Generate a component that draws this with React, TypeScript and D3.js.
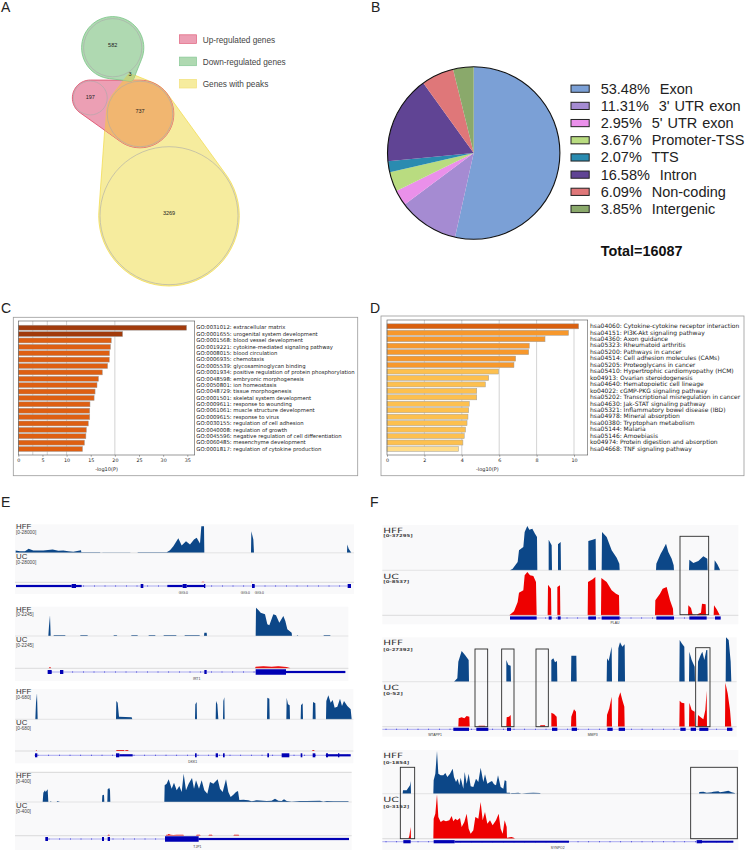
import { useEffect, useRef } from "react";
import * as d3 from "d3";

// ---- panel A
const vennCounts = { down: 582, shared: 3, upOnly: 197, upPeak: 737, peakOnly: 3269 };
const legendA = ["Up-regulated genes", "Down-regulated genes", "Genes with peaks"];

// ---- panel B
const pieNames = ["Exon", "3' UTR exon", "5' UTR exon", "Promoter-TSS", "TTS", "Intron", "Non-coding", "Intergenic"];
const pieValues = [53.48, 11.31, 2.95, 3.67, 2.07, 16.58, 6.09, 3.85];
const pieColors = ["#7ba0d6", "#a58bd2", "#ea90ea", "#b9dc80", "#2a8bb0", "#604494", "#df7779", "#8aa96b"];

// ---- panel C
const goLabels = [
  "GO:0031012: extracellular matrix",
  "GO:0001655: urogenital system development",
  "GO:0001568: blood vessel development",
  "GO:0019221: cytokine-mediated signaling pathway",
  "GO:0008015: blood circulation",
  "GO:0006935: chemotaxis",
  "GO:0005539: glycosaminoglycan binding",
  "GO:0001934: positive regulation of protein phosphorylation",
  "GO:0048598: embryonic morphogenesis",
  "GO:0050801: ion homeostasis",
  "GO:0048729: tissue morphogenesis",
  "GO:0001501: skeletal system development",
  "GO:0009611: response to wounding",
  "GO:0061061: muscle structure development",
  "GO:0009615: response to virus",
  "GO:0030155: regulation of cell adhesion",
  "GO:0040008: regulation of growth",
  "GO:0045596: negative regulation of cell differentiation",
  "GO:0060485: mesenchyme development",
  "GO:0001817: regulation of cytokine production",
];
const goValues = [34.85, 21.6, 19.25, 19.1, 18.9, 18.85, 18.5, 17.4, 16.6, 16.3, 15.9, 15.7, 14.85, 14.8, 14.8, 14.5, 14.1, 14.0, 13.7, 13.3];
const goColors = goValues.map((_, i) => (i < 2 ? "#a13a0b" : "#de5f12"));

// ---- panel D
const keggLabels = [
  "hsa04060: Cytokine-cytokine receptor interaction",
  "hsa04151: PI3K-Akt signaling pathway",
  "hsa04360: Axon guidance",
  "hsa05323: Rheumatoid arthritis",
  "hsa05200: Pathways in cancer",
  "hsa04514: Cell adhesion molecules (CAMs)",
  "hsa05205: Proteoglycans in cancer",
  "hsa05410: Hypertrophic cardiomyopathy (HCM)",
  "ko04913: Ovarian steroidogenesis",
  "hsa04640: Hematopoietic cell lineage",
  "ko04022: cGMP-PKG signaling pathway",
  "hsa05202: Transcriptional misregulation in cancer",
  "hsa04630: Jak-STAT signaling pathway",
  "hsa05321: Inflammatory bowel disease (IBD)",
  "hsa04978: Mineral absorption",
  "hsa00380: Tryptophan metabolism",
  "hsa05144: Malaria",
  "hsa05146: Amoebiasis",
  "ko04974: Protein digestion and absorption",
  "hsa04668: TNF signaling pathway",
];
const keggValues = [10.25, 9.71, 8.45, 7.61, 7.58, 6.88, 6.79, 5.97, 5.44, 5.26, 4.8, 4.8, 4.4, 4.37, 4.33, 4.28, 4.2, 4.13, 4.06, 3.83];
const keggColors = keggValues.map((_, i) => (i === 0 ? "#d9600f" : i < 7 ? "#f7982c" : i < 19 ? "#fdc04f" : "#fedc8c"));

// ---- coverage tracks: [position, coverage]
type Pt = [number, number];
type Exon = [number, number, number];

const e1Hff: Pt[] = [[47,0],[47,7],[60,5],[75,5],[86,12],[100,7],[130,7],[158,10],[175,6],[190,7],[205,5],[220,3],[243,8],[244,2],[300,2],[302,0],[310,1],[390,1],[392,0],[412,0],[414,2],[485,2],[500,2],[510,8],[520,20],[535,44],[545,22],[558,35],[570,25],[582,40],[590,45],[600,28],[604,80],[612,80],[613,0],[753,0],[754,65],[760,40],[762,0],[1041,0],[1042,25],[1046,12],[1053,2],[1054,0]];
const e1Uc: Pt[] = [[604,0],[606,2],[612,2],[614,0],[753,0],[755,2],[758,0]];
const e1Exons: Exon[] = [[48,215,1],[215,228,2],[228,245,1],[422,430,2],[502,548,1],[548,560,2],[560,612,1],[612,616,2],[756,764,2],[1043,1053,2]];

const e2Hff: Pt[] = [[145,0],[147,30],[150,62],[152,0],[160,0],[162,2],[195,2],[197,0],[240,0],[242,2],[262,2],[264,0],[340,0],[342,2],[350,2],[352,0],[393,0],[395,2],[412,2],[414,0],[445,0],[447,2],[465,2],[467,0],[490,0],[492,2],[528,2],[530,0],[553,0],[555,2],[598,2],[600,0],[612,0],[613,10],[620,10],[621,0],[767,0],[768,85],[775,78],[782,70],[795,65],[802,35],[808,32],[820,65],[828,62],[838,40],[850,60],[856,45],[862,20],[875,10],[876,0],[890,0],[892,2],[895,0],[970,0],[972,2],[990,2],[992,0]];
const e2Uc: Pt[] = [[146,0],[148,3],[152,3],[153,0],[765,0],[767,5],[790,6],[815,5],[835,6],[860,4],[870,1],[871,0]];
const e2Exons: Exon[] = [[143,155,2],[180,190,2],[613,620,2],[767,858,3],[858,1036,1]];

const e3Hff: Pt[] = [[106,0],[108,50],[111,78],[113,0],[348,0],[349,55],[353,50],[357,8],[395,6],[397,0],[585,0],[586,45],[590,52],[591,0],[647,0],[648,55],[652,45],[655,0],[669,0],[670,55],[673,66],[674,0],[801,0],[802,65],[808,62],[809,0],[859,0],[860,65],[864,45],[869,42],[870,0],[902,0],[903,42],[908,48],[909,0],[938,0],[939,52],[946,48],[947,0],[978,0],[979,55],[985,72],[992,50],[998,58],[1004,35],[1012,38],[1020,62],[1026,40],[1032,55],[1042,40],[1052,30],[1055,0]];
const e3Uc: Pt[] = [[107,0],[109,3],[111,0],[348,0],[350,3],[372,3],[374,0],[375,0],[377,3],[384,3],[386,0],[936,0],[938,3],[942,3],[944,0]];
const e3Exons: Exon[] = [[105,112,2],[348,358,2],[358,398,1],[585,590,2],[647,654,2],[669,674,2],[802,807,2],[845,868,2],[902,907,2],[938,946,2],[978,984,2],[984,1052,1],[1014,1018,2]];

const e4Hff: Pt[] = [[128,0],[130,28],[135,35],[137,30],[143,38],[145,0],[150,0],[152,2],[155,0],[170,0],[172,3],[180,0],[306,0],[307,20],[312,22],[313,0],[322,0],[323,38],[328,42],[330,35],[331,0],[493,0],[494,50],[500,55],[506,68],[515,40],[522,58],[530,35],[538,48],[545,30],[551,85],[558,35],[566,55],[576,72],[582,40],[588,65],[597,40],[605,65],[613,35],[622,25],[630,60],[640,55],[653,68],[660,40],[668,30],[678,68],[685,30],[692,15],[700,22],[708,30],[714,33],[718,6],[730,7],[745,5],[755,2],[770,5],[800,3],[815,4],[825,10],[835,4],[845,3],[852,8],[860,3],[875,1],[900,3],[920,3],[960,4],[970,1],[980,3],[1000,2],[1045,2],[1046,0]];
const e4Uc: Pt[] = [[322,0],[324,3],[328,3],[330,0],[497,0],[499,3],[503,3],[506,5],[512,3],[520,2],[530,3],[550,3],[552,0],[588,0],[590,3],[600,3],[602,0],[625,0],[627,3],[636,3],[638,0],[700,0],[702,3],[716,3],[718,0]];
const e4Exons: Exon[] = [[136,144,2],[306,312,2],[323,330,2],[495,596,3],[596,1047,1]];

const f1Hff: Pt[] = [[420,0],[428,5],[443,25],[447,60],[460,70],[464,115],[472,133],[478,122],[487,125],[495,110],[501,100],[502,0],[536,0],[536,92],[545,75],[546,0],[564,0],[564,78],[572,85],[573,0],[655,0],[655,88],[668,92],[677,95],[678,0],[695,0],[696,115],[710,100],[725,60],[740,38],[748,20],[749,0],[858,0],[859,20],[872,50],[878,60],[888,80],[895,55],[905,35],[911,15],[912,0],[957,0],[958,32],[970,22],[985,28],[1000,42],[1012,35],[1013,0],[1033,0],[1034,30],[1042,18],[1049,4],[1050,0]];
const f1Uc: Pt[] = [[418,0],[432,12],[443,40],[447,68],[460,75],[464,120],[472,130],[480,120],[490,118],[498,100],[500,0],[533,0],[534,92],[543,80],[544,0],[562,0],[562,85],[570,90],[571,0],[653,0],[654,100],[668,108],[676,115],[677,0],[693,0],[694,112],[710,100],[725,75],[738,65],[747,60],[748,0],[855,0],[856,45],[870,65],[878,80],[890,85],[900,45],[909,20],[910,0],[954,0],[955,30],[963,22],[968,2],[980,0],[985,5],[993,8],[996,35],[1007,33],[1008,0],[1031,0],[1032,30],[1040,18],[1048,3],[1049,0]];
const f1Exons: Exon[] = [[420,500,2],[536,545,2],[563,572,2],[655,678,2],[695,749,2],[859,912,2],[958,1010,2],[1035,1052,2]];

const f2Hff: Pt[] = [[252,0],[262,10],[265,60],[275,92],[285,80],[296,65],[297,0],[409,0],[409,65],[415,50],[422,48],[423,0],[544,0],[544,65],[550,70],[555,58],[561,62],[562,0],[603,0],[604,78],[619,78],[620,0],[710,0],[711,70],[716,62],[725,105],[726,0],[744,0],[745,100],[750,118],[757,105],[764,112],[765,0],[928,0],[929,125],[935,115],[943,105],[944,0],[957,0],[958,90],[965,65],[974,45],[975,0],[983,0],[984,60],[992,80],[997,90],[1003,65],[1009,95],[1012,95],[1013,0],[1067,0],[1068,133],[1076,125],[1082,60],[1084,0]];
const f2Uc: Pt[] = [[265,0],[266,25],[275,28],[283,25],[290,32],[298,30],[299,0],[325,0],[326,3],[345,3],[346,0],[409,0],[410,28],[417,30],[422,35],[423,0],[510,0],[511,4],[525,4],[526,0],[544,0],[544,42],[552,38],[560,30],[561,0],[603,0],[604,30],[612,52],[618,45],[619,0],[710,0],[711,35],[718,55],[725,90],[726,0],[744,0],[745,85],[751,103],[757,80],[763,60],[764,0],[928,0],[929,78],[935,72],[943,70],[944,0],[957,0],[958,72],[965,50],[974,45],[975,0],[983,0],[984,35],[992,28],[1000,22],[1006,50],[1010,108],[1011,0],[1065,0],[1066,132],[1073,100],[1080,50],[1084,0]];
const f2Exons: Exon[] = [[250,297,2],[319,355,2],[411,423,2],[546,562,2],[605,621,2],[712,728,2],[746,765,2],[931,947,2],[962,978,2],[988,1015,2],[1071,1087,2]];

const f3Hff: Pt[] = [[98,0],[99,10],[110,10],[120,25],[122,38],[123,0],[190,0],[191,40],[196,60],[201,128],[205,60],[212,55],[220,55],[226,62],[232,50],[240,60],[248,75],[252,50],[258,35],[263,45],[268,25],[272,48],[280,15],[284,65],[290,30],[296,60],[302,22],[310,20],[318,45],[325,35],[332,78],[340,35],[345,58],[352,30],[360,35],[366,38],[372,28],[378,25],[384,55],[392,20],[400,15],[404,40],[409,38],[410,3],[420,3],[421,0],[425,2],[435,2],[445,3],[455,0],[470,2],[490,3],[510,2],[512,0],[987,0],[988,5],[1000,6],[1010,3],[1025,4],[1030,6],[1045,7],[1050,4],[1060,6],[1075,9],[1085,4],[1094,2],[1095,0]];
const f3Uc: Pt[] = [[115,0],[118,8],[122,35],[123,0],[190,0],[191,60],[196,75],[201,133],[205,65],[212,50],[220,55],[228,52],[238,55],[245,68],[250,52],[256,60],[262,55],[270,62],[275,35],[283,50],[290,75],[296,30],[302,15],[310,25],[316,65],[325,60],[332,110],[338,55],[345,80],[352,45],[360,55],[368,40],[378,55],[386,75],[392,30],[398,15],[404,55],[410,35],[411,3],[425,5],[433,2],[434,0]];
const f3Exons: Exon[] = [[100,122,2],[191,254,2],[254,597,1],[980,996,2],[996,1090,1]];

const HFF_BLUE = "#0c4788";
const UC_RED = "#ee0000";
const LABEL_FONT = "'Liberation Sans', Arial, sans-serif";
const BAR_FONT = "'DejaVu Sans', sans-serif";

// zoomed coordinates -> page, one scale per column
const xE = d3.scaleLinear().domain([0, 1110]).range([0, 370]);
const xF = d3.scaleLinear().domain([0, 1131]).range([370, 747]);

function circlePoints(cx: number, cy: number, r: number): [number, number][] {
  return d3.range(64).map((i) => {
    const a = (i / 64) * 2 * Math.PI;
    return [cx + r * Math.cos(a), cy + r * Math.sin(a)] as [number, number];
  });
}

function VennPanel() {
  const radius = d3.scaleSqrt().domain([0, vennCounts.peakOnly]).range([0, 69]);
  const down = { x: 112.7, y: 47.7, r: radius(vennCounts.down) };
  const shared = { x: 130, y: 77, r: radius(vennCounts.shared) };
  const upOnly = { x: 90.3, y: 98, r: radius(vennCounts.upOnly) };
  const upPeak = { x: 140, y: 114, r: radius(vennCounts.upPeak) };
  const peakOnly = { x: 169, y: 215.7, r: radius(vennCounts.peakOnly) };

  const hull = (sets: { x: number; y: number; r: number }[], pad: number) => {
    const pts = sets.flatMap((s) => circlePoints(s.x, s.y, s.r + pad));
    return d3.line()(d3.polygonHull(pts)!)! + "Z";
  };
  const greenHull = hull([down, shared], 2);
  const pinkHull = hull([upOnly, upPeak], 1);
  const yellowHull = hull([shared, upPeak, peakOnly], 1.3);

  const swatches = [
    { fill: "#ec9fb4", stroke: "#e0607c" },
    { fill: "#afd9b1", stroke: "#86c895" },
    { fill: "#f6ec9e", stroke: "#f3e27c" },
  ];
  const grey = "#a9a9a9";

  return (
    <g>
      <defs>
        <clipPath id="clipYellow">
          <path d={yellowHull} />
        </clipPath>
      </defs>
      <path d={yellowHull} fill="#f6ec9e" stroke="#f2dd55" strokeWidth={0.8} />
      <path d={pinkHull} fill="#ec9fb4" stroke="#e0526f" strokeWidth={0.9} />
      <path d={pinkHull} fill="#f1b670" clipPath="url(#clipYellow)" />
      <path d={greenHull} fill="#afd9b1" stroke="#79c487" strokeWidth={0.8} />
      <path d={greenHull} fill="#c3d27e" clipPath="url(#clipYellow)" />
      {[down, upOnly, upPeak, peakOnly].map((c, i) => (
        <circle key={i} cx={c.x} cy={c.y} r={c.r} fill="none" stroke={grey} strokeWidth={0.6} />
      ))}
      <g fontFamily={LABEL_FONT} fontSize={5.5} fill="#222" textAnchor="middle">
        <text x={112.7} y={47}>{vennCounts.down}</text>
        <text x={130} y={76}>{vennCounts.shared}</text>
        <text x={90.3} y={99}>{vennCounts.upOnly}</text>
        <text x={140} y={113}>{vennCounts.upPeak}</text>
        <text x={169} y={214.5}>{vennCounts.peakOnly}</text>
      </g>
      {legendA.map((name, i) => (
        <g key={name}>
          <rect x={179.5} y={34.8 + i * 22.3} width={17} height={8.6} fill={swatches[i].fill} stroke={swatches[i].stroke} strokeWidth={0.7} />
          <text x={202.7} y={42.6 + i * 22.3} fontFamily={LABEL_FONT} fontSize={8.25} fill="#444">
            {name}
          </text>
        </g>
      ))}
    </g>
  );
}

function PiePanel() {
  const slices = d3.pie<number>().sort(null)(pieValues);
  const arc = d3.arc<d3.PieArcDatum<number>>().innerRadius(0).outerRadius(86.2);
  const row = d3.scalePoint<string>().domain(pieNames).range([88.7, 209]);
  return (
    <g fontFamily={LABEL_FONT}>
      <g transform="translate(473.7,153)">
        {slices.map((s, i) => (
          <path key={i} d={arc(s)!} fill={pieColors[i]} />
        ))}
        <circle r={86.2} fill="none" stroke="#111" strokeWidth={1.1} />
      </g>
      {pieNames.map((name, i) => (
        <g key={name}>
          <rect x={571} y={row(name)! - 3.6} width={18.2} height={7.2} fill={pieColors[i]} stroke="#222" strokeWidth={1} />
          <text x={600.7} y={row(name)! + 5} fontSize={14.5} wordSpacing={0.9} fill="#222" style={{ whiteSpace: "pre" }}>
            {`${pieValues[i].toFixed(2)}%  ${name}`}
          </text>
        </g>
      ))}
      <text x={600.7} y={256} fontSize={14.4} fontWeight="bold" fill="#111">
        Total=16087
      </text>
    </g>
  );
}

function BarPanel({
  labels, values, colors, box, plot, xRange, maxTick, tickStep, grid, bandRange, labelX, labelSize, id,
}: {
  labels: string[]; values: number[]; colors: string[];
  box: number[]; plot: number[]; xRange: number[]; maxTick: number; tickStep: number;
  grid: number[]; bandRange: number[]; labelX: number; labelSize: number; id: string;
}) {
  const axisRef = useRef<SVGGElement>(null);
  const x = d3.scaleLinear().domain([0, maxTick]).range(xRange);
  const y = d3.scaleBand<string>().domain(labels).range(bandRange).paddingInner(0.22).paddingOuter(0.11);

  useEffect(() => {
    const g = d3.select(axisRef.current!);
    g.selectAll("*").remove();
    g.call(d3.axisBottom(x).tickValues(d3.range(0, maxTick + 0.01, tickStep)).tickSize(1.8).tickPadding(1.5) as any);
    g.select(".domain").remove();
    g.selectAll("line").attr("stroke", "#333").attr("stroke-width", 0.4);
    g.selectAll("text").attr("font-size", 4.8).attr("font-family", BAR_FONT).attr("fill", "#222");
  }, [id]);

  return (
    <g>
      <rect x={box[0]} y={box[1]} width={box[2] - box[0]} height={box[3] - box[1]} fill="#fff" stroke="#9a9a9a" strokeWidth={0.8} />
      {grid.map((g) => (
        <line key={g} x1={x(g)} x2={x(g)} y1={plot[1]} y2={plot[3]} stroke="#c8c8c8" strokeWidth={0.8} />
      ))}
      {labels.map((label, i) => (
        <rect key={label} x={x(0)} y={y(label)} width={x(values[i]) - x(0)} height={y.bandwidth()} fill={colors[i]} stroke="#a0a0a0" strokeWidth={0.5} />
      ))}
      <rect x={plot[0]} y={plot[1]} width={plot[2] - plot[0]} height={plot[3] - plot[1]} fill="none" stroke="#555" strokeWidth={0.6} />
      <g ref={axisRef} transform={`translate(0,${plot[3]})`} />
      <text x={(plot[0] + plot[2]) / 2} y={plot[3] + 15.5} fontFamily={BAR_FONT} fontSize={5} textAnchor="middle" fill="#222">
        -log10(P)
      </text>
      {labels.map((label) => (
        <text key={label} x={labelX} y={y(label)! + y.bandwidth() / 2 + 1.8} fontFamily={BAR_FONT} fontSize={labelSize} fill="#222">
          {label}
        </text>
      ))}
    </g>
  );
}

interface TrackConfig {
  hff: Pt[]; uc: Pt[]; exons: Exon[];
  left: number; right: number; top: number; hffBase: number; ucBase: number; geneY: number; bottom: number;
  hffY: number; hffRangeY: number; ucY: number; ucRangeY: number;
  hffRange: string; ucRange: string;
  geneStart: number; geneEnd: number;
  genes: [string, number, number][];
  boxes?: number[][];
  topLine?: boolean;
}

function Track({ t, x, wide }: { t: TrackConfig; x: d3.ScaleLinear<number, number>; wide: boolean }) {
  const covHff = d3.scaleLinear().domain([0, 300]).range([t.hffBase, t.hffBase - 100]);
  const covUc = d3.scaleLinear().domain([0, 300]).range([t.ucBase, t.ucBase - 100]);
  const areaHff = d3.area<Pt>().x((d) => x(d[0])).y0(t.hffBase).y1((d) => covHff(d[1]));
  const areaUc = d3.area<Pt>().x((d) => x(d[0])).y0(t.ucBase).y1((d) => covUc(d[1]));
  const exonH = wide ? [0, 2, 3.2, 4.5] : [0, 2.2, 4, 5.5];
  const ticks = d3.range(t.geneStart + 10, t.geneEnd, 32);
  const tx = x(t.left);

  // column F prints its labels stretched sideways
  const big = (s: string, y: number) =>
    wide ? (
      <text x={tx + 1} y={y} fontFamily={BAR_FONT} fontSize={7.2} textLength={s.length === 3 ? 19.7 : 15.7} lengthAdjust="spacingAndGlyphs" fill="#333">{s}</text>
    ) : (
      <text x={tx + 1} y={y} fontFamily={LABEL_FONT} fontSize={7.8} fill="#333">{s}</text>
    );
  const small = (s: string, y: number) =>
    wide ? (
      <text x={tx + 1} y={y} fontFamily={BAR_FONT} fontWeight="bold" fontSize={4.1} textLength={s.length * 3.25} lengthAdjust="spacingAndGlyphs" fill="#444">{s}</text>
    ) : (
      <text x={tx + 1} y={y} fontFamily={LABEL_FONT} fontSize={4.8} fill="#444">{s}</text>
    );

  return (
    <g>
      <rect x={x(t.left)} width={x(t.right) - x(t.left)} y={t.top} height={t.bottom - t.top} fill="#f9f9fa" />
      {t.topLine && <line x1={x(t.left)} x2={x(t.right)} y1={t.top} y2={t.top} stroke="#bdbdbd" strokeWidth={0.6} />}
      <path d={areaHff(t.hff)!} fill={HFF_BLUE} />
      <path d={areaUc(t.uc)!} fill={UC_RED} />
      <line x1={x(t.left)} x2={x(t.right)} y1={t.hffBase} y2={t.hffBase} stroke="#cfcfcf" strokeWidth={0.5} />
      <line x1={x(t.left)} x2={x(t.right)} y1={t.ucBase} y2={t.ucBase} stroke="#bdbdbd" strokeWidth={0.5} />
      <line x1={x(t.geneStart)} x2={x(t.geneEnd)} y1={t.geneY} y2={t.geneY} stroke="#5c5ce6" strokeWidth={0.5} />
      {ticks.map((p) => (
        <rect key={p} x={x(p)} y={t.geneY - 0.6} width={0.7} height={1.2} fill="#2a2ad0" />
      ))}
      {t.exons.map((e, i) => (
        <rect key={i} x={x(e[0])} width={x(e[1]) - x(e[0])} y={t.geneY - exonH[e[2]] / 2} height={exonH[e[2]]} fill="#0000b4" />
      ))}
      {t.genes.map(([name, px, py]) => (
        <text key={name + px} x={x(px)} y={py} fontFamily={LABEL_FONT} fontSize={3.4} textAnchor="middle" fill="#333">
          {name}
        </text>
      ))}
      {big("HFF", t.hffY)}
      {small(t.hffRange, t.hffRangeY)}
      {big("UC", t.ucY)}
      {small(t.ucRange, t.ucRangeY)}
      {(t.boxes ?? []).map((b, i) => (
        <rect key={i} x={x(b[0])} width={x(b[1]) - x(b[0])} y={b[2]} height={b[3] - b[2]} fill="none" stroke="#2b2b2b" strokeWidth={0.9} />
      ))}
    </g>
  );
}

const tracksE: TrackConfig[] = [
  { hff: e1Hff, uc: e1Uc, exons: e1Exons, left: 45, right: 1062, top: 524.3, hffBase: 552.8, ucBase: 582.3, geneY: 586, bottom: 594,
    hffY: 528.9, hffRangeY: 533.8, ucY: 558.5, ucRangeY: 563.7, hffRange: "[0-28000]", ucRange: "[0-28000]", geneStart: 48, geneEnd: 1053,
    genes: [["GIG.0", 550, 594], ["GIG.0", 736, 594], ["GIG.0", 778, 594]] },
  { hff: e2Hff, uc: e2Uc, exons: e2Exons, left: 45, right: 1045, top: 606.7, hffBase: 636, ucBase: 668.3, geneY: 672, bottom: 681,
    hffY: 611.8, hffRangeY: 616.2, ucY: 642, ucRangeY: 646.8, hffRange: "[0-2245]", ucRange: "[0-2245]", geneStart: 143, geneEnd: 1036,
    genes: [["IRT1", 590, 680]] },
  { hff: e3Hff, uc: e3Uc, exons: e3Exons, left: 45, right: 1060, top: 689, hffBase: 719.3, ucBase: 751, geneY: 755.3, bottom: 763.3,
    hffY: 694.4, hffRangeY: 699.4, ucY: 725.4, ucRangeY: 730, hffRange: "[0-680]", ucRange: "[0-680]", geneStart: 103, geneEnd: 1052,
    genes: [["DKK1", 578, 763]] },
  { hff: e4Hff, uc: e4Uc, exons: e4Exons, left: 45, right: 1055, top: 772.3, hffBase: 802, ucBase: 835.7, geneY: 839, bottom: 850,
    hffY: 777.8, hffRangeY: 782.8, ucY: 808.4, ucRangeY: 813.4, hffRange: "[0-400]", ucRange: "[0-400]", geneStart: 136, geneEnd: 1047,
    genes: [["TJP1", 592, 848]], topLine: true },
];

const tracksF: TrackConfig[] = [
  { hff: f1Hff, uc: f1Uc, exons: f1Exons, left: 37, right: 1105, top: 525, hffBase: 570.3, ucBase: 615.3, geneY: 618, bottom: 624.3,
    hffY: 532.8, hffRangeY: 537.4, ucY: 578.8, ucRangeY: 583.4, hffRange: "[0-37295]", ucRange: "[0-8537]", geneStart: 420, geneEnd: 1052,
    genes: [["PLAU", 735, 624]], boxes: [[930, 1016, 536.3, 614.7]] },
  { hff: f2Hff, uc: f2Uc, exons: f2Exons, left: 37, right: 1100, top: 637.3, hffBase: 681.7, ucBase: 726.7, geneY: 729.3, bottom: 736.7,
    hffY: 645.2, hffRangeY: 650.8, ucY: 690.2, ucRangeY: 695.2, hffRange: "[0-27392]", ucRange: "[0-52]", geneStart: 37, geneEnd: 1090,
    genes: [["WTAPP1", 195, 735.8], ["MMP3", 668, 735.8]],
    boxes: [[315, 353, 649, 726.7], [395, 432, 649, 726.7], [498, 535, 649, 726.7], [977, 1020, 647.7, 726.7]] },
  { hff: f3Hff, uc: f3Uc, exons: f3Exons, left: 37, right: 1105, top: 750, hffBase: 793.7, ucBase: 838.7, geneY: 841.7, bottom: 850,
    hffY: 758.4, hffRangeY: 763.8, ucY: 802.4, ucRangeY: 807.8, hffRange: "[0-1854]", ucRange: "[0-3152]", geneStart: 37, geneEnd: 1090,
    genes: [["SYNPO2", 563, 849.4]], boxes: [[91, 134, 767.3, 838.7], [962, 1102, 767.3, 838.7]] },
];

const panelLetters: [string, number, number][] = [
  ["A", 1, 12], ["B", 371, 12], ["C", 1, 313], ["D", 370, 313], ["E", 1, 507], ["F", 370, 507],
];

export default function App() {
  return (
    <svg width={747} height={851} style={{ position: "absolute", left: 0, top: 0, background: "#fff" }}>
      {panelLetters.map(([l, x, y]) => (
        <text key={l} x={x} y={y} fontFamily={LABEL_FONT} fontSize={14} fill="#222">{l}</text>
      ))}
      <VennPanel />
      <PiePanel />
      <BarPanel
        id="go" labels={goLabels} values={goValues} colors={goColors}
        box={[13.3, 317.3, 357.7, 475.7]} plot={[18.3, 321, 194.7, 455]}
        xRange={[18.3, 187.3]} maxTick={35} tickStep={5} grid={[3, 6, 10, 20]}
        bandRange={[324.5, 452.2]} labelX={196.3} labelSize={5.3}
      />
      <BarPanel
        id="kegg" labels={keggLabels} values={keggValues} colors={keggColors}
        box={[381, 316, 744, 475.7]} plot={[387, 320, 587.7, 455]}
        xRange={[387, 574]} maxTick={10} tickStep={2} grid={[2, 4, 6, 8, 10]}
        bandRange={[323.1, 452.2]} labelX={590} labelSize={6}
      />
      {tracksE.map((t, i) => (
        <Track key={i} t={t} x={xE} wide={false} />
      ))}
      {tracksF.map((t, i) => (
        <Track key={i} t={t} x={xF} wide={true} />
      ))}
    </svg>
  );
}
